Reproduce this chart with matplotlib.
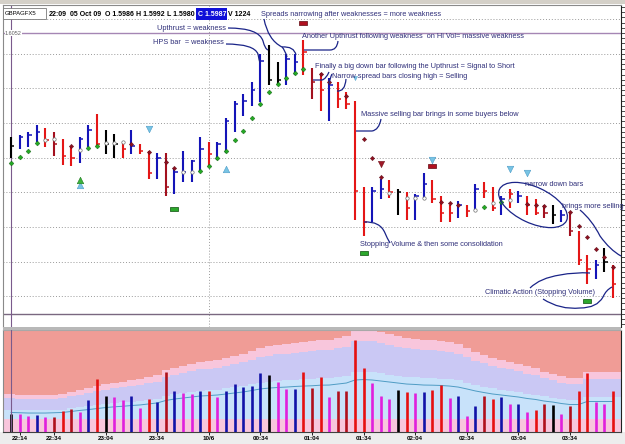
"""GBPAGFX5 5-minute bars with VSA volume panel and hand-drawn notes."""

import numpy as np
import matplotlib
matplotlib.use("Agg")
import matplotlib.pyplot as plt
from matplotlib.path import Path
from matplotlib.patches import PathPatch, Ellipse, Rectangle

W, H = 625, 444

# ---- price bars (5 min, first bar 22:09 05 Oct 09) ----
highs = [1.5992, 1.5993, 1.5995, 1.5999, 1.5997, 1.5995, 1.5991, 1.5986, 1.5992, 1.5999,
         1.6005, 1.5996, 1.5994, 1.5989, 1.5996, 1.5988, 1.5984, 1.5983, 1.5983, 1.5974,
         1.5984, 1.5979, 1.5992, 1.5989, 1.5989, 1.6003, 1.6013, 1.6017, 1.6024, 1.6040,
         1.6045, 1.6035, 1.6040, 1.6040, 1.6048, 1.6032, 1.6029, 1.6026, 1.6024, 1.6018,
         1.6013, 1.5963, 1.5963, 1.5968, 1.5967, 1.5962, 1.5960, 1.5959, 1.5971, 1.5967,
         1.5958, 1.5953, 1.5955, 1.5953, 1.5965, 1.5966, 1.5963, 1.5958, 1.5962, 1.5961,
         1.5958, 1.5956, 1.5953, 1.5953, 1.5950, 1.5948, 1.5938, 1.5924, 1.5921, 1.5928,
         1.5918]
lows = [1.5980, 1.5985, 1.5986, 1.5989, 1.5986, 1.5981, 1.5976, 1.5975, 1.5977, 1.5986,
        1.5986, 1.5982, 1.5980, 1.5980, 1.5982, 1.5982, 1.5968, 1.5968, 1.5958, 1.5959,
        1.5966, 1.5966, 1.5972, 1.5975, 1.5979, 1.5983, 1.5995, 1.6004, 1.6010, 1.6012,
        1.6022, 1.6022, 1.6022, 1.6028, 1.6028, 1.6014, 1.6007, 1.6001, 1.6009, 1.6008,
        1.5944, 1.5935, 1.5943, 1.5956, 1.5957, 1.5947, 1.5944, 1.5944, 1.5957, 1.5954,
        1.5943, 1.5943, 1.5945, 1.5946, 1.5949, 1.5957, 1.5949, 1.5947, 1.5951, 1.5954,
        1.5947, 1.5947, 1.5945, 1.5942, 1.5943, 1.5935, 1.5918, 1.5907, 1.5910, 1.5914,
        1.5899]
closes = [1.5987, 1.5992, 1.5993, 1.5995, 1.5990, 1.5988, 1.5981, 1.5980, 1.5991, 1.5996,
          1.5988, 1.5988, 1.5988, 1.5985, 1.5987, 1.5984, 1.5971, 1.5980, 1.5963, 1.5972,
          1.5972, 1.5978, 1.5985, 1.5982, 1.5988, 1.6001, 1.6011, 1.6013, 1.6019, 1.6036,
          1.6025, 1.6025, 1.6037, 1.6035, 1.6041, 1.6024, 1.6019, 1.6022, 1.6014, 1.6011,
          1.5961, 1.5943, 1.5961, 1.5962, 1.5960, 1.5960, 1.5951, 1.5958, 1.5965, 1.5956,
          1.5948, 1.5948, 1.5953, 1.5949, 1.5962, 1.5961, 1.5951, 1.5956, 1.5959, 1.5958,
          1.5953, 1.5948, 1.5948, 1.5947, 1.5947, 1.5938, 1.5921, 1.5916, 1.5918, 1.5920,
          1.5907]
# n = neutral, u = up, d = down, w = weak down
price_kind = ["n", "u", "u", "u", "d", "w", "d", "d", "u", "u",
              "d", "n", "n", "d", "u", "d", "d", "u", "w", "u",
              "u", "u", "u", "d", "u", "u", "u", "u", "u", "u",
              "n", "n", "u", "u", "d", "w", "d", "u", "d", "d",
              "d", "d", "u", "u", "d", "n", "d", "u", "u", "d",
              "d", "d", "u", "d", "u", "d", "d", "u", "d", "u",
              "d", "d", "w", "n", "u", "w", "d", "d", "u", "n",
              "d"]

# ---- volume panel ----
volume = [1224, 1220, 1100, 1150, 990, 1035, 1400, 1565, 1335, 2210,
          3635, 2460, 2370, 2210, 2440, 1630, 2255, 2070, 4140, 2785,
          2690, 2600, 2830, 2830, 2370, 2830, 3310, 3105, 3175, 4050,
          3890, 3430, 2965, 2965, 4095, 3015, 3750, 2370, 2805, 2830,
          6350, 4370, 3360, 2485, 2230, 2875, 2760, 2670, 2740, 2900,
          3220, 2300, 2460, 1080, 1750, 2460, 2255, 2415, 1885, 1930,
          1335, 1520, 1930, 1865, 1240, 1795, 2830, 4050, 2070, 1930,
          2785]
# m = low volume (magenta)
volume_kind = ["n", "m", "m", "u", "m", "w", "d", "w", "m", "u",
               "d", "n", "m", "m", "u", "m", "d", "u", "w", "u",
               "m", "m", "u", "d", "m", "u", "u", "u", "u", "u",
               "n", "m", "m", "u", "d", "w", "d", "m", "w", "w",
               "d", "d", "m", "m", "m", "n", "d", "m", "u", "d",
               "d", "m", "u", "m", "u", "w", "d", "u", "m", "u",
               "m", "d", "w", "n", "m", "w", "d", "d", "m", "m",
               "d"]
volume_avg = [1320, 1300, 1280, 1280, 1280, 1300, 1320, 1390, 1460, 1520,
              1590, 1660, 1710, 1750, 1800, 1840, 1910, 1980, 2150, 2250,
              2320, 2390, 2460, 2490, 2530, 2600, 2670, 2740, 2840, 2950,
              3010, 3050, 3080, 3120, 3150, 3170, 3210, 3220, 3290, 3360,
              3570, 3600, 3570, 3500, 3430, 3360, 3290, 3260, 3220, 3210,
              3190, 3150, 3080, 2950, 2810, 2700, 2600, 2530, 2460, 2390,
              2290, 2220, 2110, 2040, 1940, 1870, 1870, 2080, 2080, 2080,
              2080]
quiet_level = 880
band_factors = [1.15, 1.75, 1.97]

time_ticks = [1, 5, 11, 17, 23, 29, 35, 41, 47, 53, 59, 65]
time_labels = ["22:14", "22:34", "23:04", "23:34", "10/6", "00:34",
               "01:04", "01:34", "02:04", "02:34", "03:04", "03:34"]

# ---- indicator marks (bar index, price) ----
green_dots = [(0, 1.59772), (1, 1.59806), (2, 1.59839), (3, 1.59887), (9, 1.59858),
              (10, 1.5987), (22, 1.59725), (23, 1.59754), (24, 1.59797), (25, 1.59841),
              (26, 1.59903), (27, 1.59956), (28, 1.60028), (29, 1.6011), (30, 1.60178),
              (31, 1.60224), (32, 1.60259), (33, 1.60287), (34, 1.60311), (55, 1.59516),
              (57, 1.59547)]
white_dots = [(4, 1.59903), (5, 1.59908), (8, 1.59845), (11, 1.59884), (12, 1.59884),
              (13, 1.59889), (20, 1.5972), (21, 1.5972), (44, 1.59595), (46, 1.59566),
              (47, 1.59566), (48, 1.59566), (54, 1.59496), (56, 1.59537), (58, 1.59556)]
red_dots = [(7, 1.59868), (14, 1.59878), (16, 1.59835), (18, 1.59777), (19, 1.59739),
            (36, 1.60281), (37, 1.60239), (39, 1.60156), (41, 1.5991), (42, 1.598),
            (43, 1.59687), (50, 1.59543), (51, 1.59537), (52, 1.59528), (60, 1.59533),
            (61, 1.59528), (62, 1.59522), (65, 1.59489), (66, 1.59406), (67, 1.59341),
            (68, 1.59274), (69, 1.59226), (70, 1.59171)]
blue_down = [(16, 1.59964), (49, 1.59787), (58, 1.59733), (60, 1.59714)]
blue_down_small = [(40, 1.6026)]
blue_up = [(8, 1.59643), (25, 1.59733)]
green_up = [(8, 1.59672)]
red_down = [(43, 1.59764)]
green_rects = [(19, 1.59503), (41, 1.59253), (67, 1.58971)]
red_rects = [(34, 1.60576), (49, 1.59753)]

PRICE_COLORS = {"n": "#000000", "u": "#1414b8", "d": "#e41616", "w": "#a3101e"}
VOLUME_COLORS = {"n": "#000000", "u": "#1212a8", "d": "#e61010", "w": "#b0101c",
                 "m": "#e020dc"}
QUIET_COLOR = "#f8c6dc"
BAND_COLORS = ["#c8e2fa", "#cac8f4", "#f8c6dc"]
TOP_BAND = "#f09c96"
NOTE_TEXT = "#30307a"
NOTE_LINE = "#1a2488"
FONT = ["Liberation Sans", "DejaVu Sans"]


def box(x0, y0, x1, y1):
    return [x0 / W, 1 - y1 / H, (x1 - x0) / W, (y1 - y0) / H]


fig = plt.figure(figsize=(W / 100, H / 100), dpi=100)
fig.patch.set_facecolor("white")
# light strip behind the time labels
fig.add_artist(Rectangle((0, 0), 1, 12 / H, transform=fig.transFigure,
                         color="#ededed", lw=0, zorder=-5))

# bar i sits at 11 + 8.6 * i pixels
x_lim = ((3 - 11) / 8.6, (621 - 11) / 8.6)

ax_p = fig.add_axes(box(3, 5, 621, 327))
ax_v = fig.add_axes(box(3, 329.5, 621, 431.5))
ax_o = fig.add_axes([0, 0, 1, 1], zorder=10)
ax_o.set_xlim(0, W)
ax_o.set_ylim(H, 0)
ax_o.axis("off")
ax_o.patch.set_alpha(0)

idx = np.arange(len(highs))

# ---------------- price panel ----------------
ax_p.set_xlim(*x_lim)
ax_p.set_ylim(1.588235, 1.606816)
for level in np.arange(1.5900, 1.6061, 0.0020):
    ax_p.axhline(level, color="#9a9a9a", lw=0.7, ls=(0, (1, 2)), zorder=0)
ax_p.axvline(23, color="#9a9a9a", lw=0.7, ls=(0, (1, 2)), zorder=0)
ax_p.axhline(1.6052, color="#a586b4", lw=1.0, zorder=1)
ax_p.axhline(1.5890, color="#7a6880", lw=1.0, zorder=1)
ax_p.axvline(0, color="#7a5a8c", lw=0.8, zorder=1)
ax_p.text(-0.7, 1.6052, "1.6052", fontsize=4, color="#606060", va="center",
          family=FONT, bbox=dict(facecolor="white", edgecolor="none", pad=0.3), zorder=2)

pc = [PRICE_COLORS[k] for k in price_kind]
ax_p.vlines(idx, lows, highs, colors=pc, lw=1.5, zorder=3)
ax_p.hlines(closes, idx, idx + 0.4, colors=pc, lw=1.1, zorder=3)


def marks(pts, **kw):
    xs, ys = zip(*pts)
    ax_p.scatter(xs, ys, zorder=4, **kw)


marks(green_dots, s=6, marker="D", color="#22aa22", edgecolors="#0e5a0e", linewidths=0.3)
marks(white_dots, s=6, marker="o", color="white", edgecolors="#707070", linewidths=0.5)
marks(red_dots, s=5, marker="D", color="#8c1020", edgecolors="#5a0a14", linewidths=0.3)
marks(blue_down, s=22, marker="v", color="#78c4e4", edgecolors="#4c9cc8", linewidths=0.4)
marks(blue_down_small, s=9, marker="v", color="#78c4e4", edgecolors="#4c9cc8", linewidths=0.3)
marks(blue_up, s=22, marker="^", color="#78c4e4", edgecolors="#4c9cc8", linewidths=0.4)
marks(green_up, s=22, marker="^", color="#3cb43c", edgecolors="#1e781e", linewidths=0.4)
marks(red_down, s=20, marker="v", color="#a01828", edgecolors="#701018", linewidths=0.4)
rect_marker = [(-1, -0.5), (1, -0.5), (1, 0.5), (-1, 0.5), (-1, -0.5)]
marks(green_rects, s=26, marker=rect_marker, color="#2ca82c", edgecolors="#0c500c",
      linewidths=0.5)
marks(red_rects, s=26, marker=rect_marker, color="#b01020", edgecolors="#600810",
      linewidths=0.5)

ax_p.set_xticks([])
ax_p.yaxis.tick_right()
ax_p.set_yticks(np.arange(1.5884, 1.6068, 0.0003))
ax_p.tick_params(axis="y", length=3, width=0.6, color="#303030", labelright=False)
for side, col in [("left", "#8a8a8a"), ("top", "#8a8a8a"), ("right", "#202020")]:
    ax_p.spines[side].set_color(col)
    ax_p.spines[side].set_linewidth(0.8)
ax_p.spines["bottom"].set_visible(False)

# ---------------- volume panel ----------------
ax_v.set_xlim(*x_lim)
ax_v.set_ylim(0, 7070)
avg = np.array(volume_avg, dtype=float)
xb = np.arange(-1, len(avg) + 1)
avg_b = np.r_[avg[0], avg, avg[-1]]
lower = np.full_like(avg_b, quiet_level)
ax_v.fill_between(xb, 0, lower, step="mid", color=QUIET_COLOR, lw=0, zorder=0)
for f, col in zip(band_factors, BAND_COLORS):
    ax_v.fill_between(xb, lower, avg_b * f, step="mid", color=col, lw=0, zorder=0)
    lower = avg_b * f
ax_v.fill_between(xb, lower, 8000, step="mid", color=TOP_BAND, lw=0, zorder=0)

vc = [VOLUME_COLORS[k] for k in volume_kind]
ax_v.vlines(idx, 0, volume, colors=vc, lw=1.9, zorder=3)
ax_v.plot(idx, avg, color="#4f9cc4", lw=0.7, zorder=2)
ax_v.axvline(0, color="#7a5a8c", lw=0.8, zorder=4)

ax_v.set_yticks([])
ax_v.set_xticks(time_ticks)
ax_v.set_xticklabels(time_labels, fontsize=4.5, fontweight="bold", family=FONT)
ax_v.tick_params(axis="x", length=2, width=0.6, pad=1.5)
for side, col in [("left", "#8a8a8a"), ("top", "#a8a8a8"), ("right", "#202020"),
                  ("bottom", "#404040")]:
    ax_v.spines[side].set_color(col)
    ax_v.spines[side].set_linewidth(0.8)

# ---------------- frame and header ----------------
ax_o.add_patch(Rectangle((0, 0), W, 4, color="#d4d0c8", lw=0))
ax_o.add_patch(Rectangle((3, 326.5), 618, 3, color="#b8b8b8", lw=0))
ax_o.add_patch(Rectangle((3, 8), 43, 11, facecolor="white", edgecolor="#7a7a7a", lw=0.6))
ax_o.text(5, 13.5, "GBPAGFX5", fontsize=4.3, va="center", family=FONT)
header = [(49, "22:09"), (70, "05 Oct 09"), (105, "O 1.5986"), (136, "H 1.5992"),
          (167, "L 1.5980"), (228, "V 1224")]
for x, s in header:
    ax_o.text(x, 14, s, fontsize=5, fontweight="bold", va="center", family=FONT)
ax_o.add_patch(Rectangle((196, 8), 31, 12, color="#1010d8", lw=0))
ax_o.text(198, 14, "C 1.5987", fontsize=5, fontweight="bold", va="center",
          color="white", family=FONT)

# ---------------- notes ----------------
notes = [
    (157, 28, "Upthrust = weakness"),
    (153, 43, "HPS bar  = weakness"),
    (261, 15, "Spreads narrowing after weaknesses = more weakness"),
    (302, 36, "Another Upthrust following weakness  on Hi Vol= massive weakness"),
    (315, 67, "Finally a big down bar following the Upthrust = Signal to Short"),
    (332, 77, "Narrow spread bars closing high = Selling"),
    (361, 114, "Massive selling bar brings in some buyers below"),
    (525, 184, "narrow down bars"),
    (562, 206, "brings more selling"),
    (360, 244, "Stopping Volume & then some consolidation"),
    (485, 292, "Climatic Action (Stopping Volume)"),
]
for x, y, s in notes:
    ax_o.text(x, y, s, fontsize=5.3, color=NOTE_TEXT, va="center", family=FONT)

strokes = [
    [(228, 28), (259, 28), (263, 41), (265, 49), (268, 50)],
    [(226, 44), (254, 44), (258, 54), (259, 60), (260, 63)],
    [(264, 19), (268, 40), (282, 47), (285, 50), (287, 57)],
    [(282, 47), (294, 46), (296, 55)],
    [(304, 50), (318, 50), (330, 50), (337, 50), (338, 41)],
    [(313, 80), (318, 80), (322, 80), (326, 79), (329, 72)],
    [(332, 74), (330, 78), (329, 84)],
    [(337, 91), (345, 92), (346, 79)],
    [(356, 131), (364, 131), (372, 131), (379, 130), (381, 119)],
    [(364, 222), (380, 221), (385, 233), (387, 238), (390, 243)],
    [(580, 210), (592, 220), (600, 236), (610, 250), (621, 256)],
    [(530, 288), (540, 278), (560, 275), (575, 272), (590, 273)],
    [(543, 299), (560, 310), (580, 308), (597, 308), (603, 297), (606, 290), (612, 287)],
]
for pts in strokes:
    codes = [Path.MOVETO] + [Path.CURVE3] * (len(pts) - 1)
    ax_o.add_patch(PathPatch(Path(pts, codes), facecolor="none",
                             edgecolor=NOTE_LINE, lw=0.9))
ax_o.add_patch(Ellipse((533, 205), 74, 36, angle=25, facecolor="none",
                       edgecolor=NOTE_LINE, lw=0.9))

fig.savefig("out.png", dpi=100)
